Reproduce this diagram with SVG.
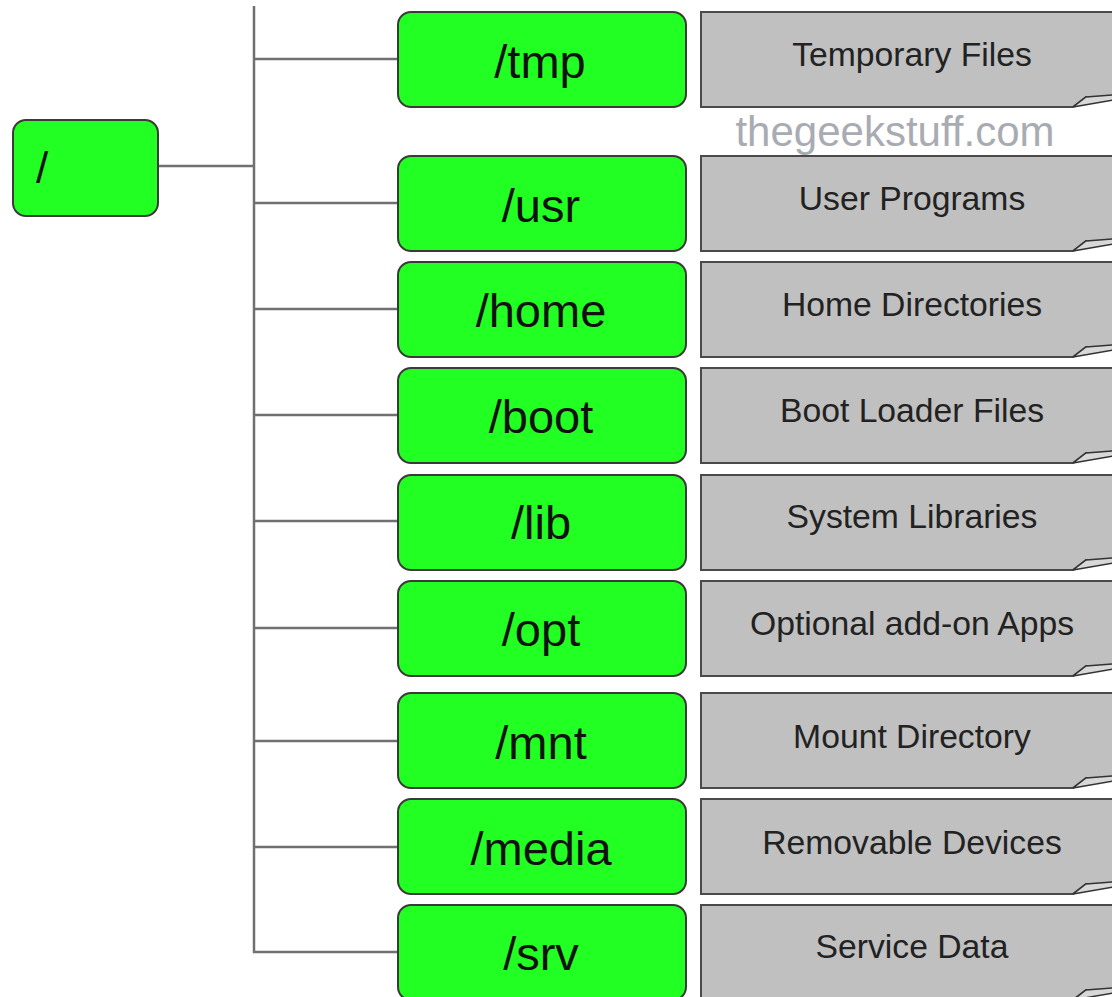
<svg xmlns="http://www.w3.org/2000/svg" width="1112" height="997" viewBox="0 0 1112 997">
<style>
.dir{fill:#22ff22;stroke:#3a3a3a;stroke-width:2}
.dt{font-family:"Liberation Sans",Arial,sans-serif;font-size:47px;fill:#111;text-anchor:middle}
.note{fill:#c0c0c0;stroke:#4a4a4a;stroke-width:2}
.fold{fill:#d8d8d8;stroke:#333;stroke-width:1.5}
.nt{font-family:"Liberation Sans",Arial,sans-serif;font-size:33.7px;fill:#222;text-anchor:middle}
.conn{stroke:#707070;stroke-width:2.5;fill:none}
</style>
<defs>
<g id="notebox">
<path class="note" d="M1114,0 L0,0 L0,95 L372,95 L385,85 L1114,84"/>
<path class="fold" d="M372,95 L385,85 L412,83 L412,88 Z"/>
</g>
</defs>
<g id="connectors">
<path class="conn" d="M254,6 L254,952 L398,952"/>
<path class="conn" d="M158,166 L254,166"/>
<path class="conn" d="M254,59 L398,59"/>
<path class="conn" d="M254,203 L398,203"/>
<path class="conn" d="M254,309 L398,309"/>
<path class="conn" d="M254,415 L398,415"/>
<path class="conn" d="M254,521 L398,521"/>
<path class="conn" d="M254,628 L398,628"/>
<path class="conn" d="M254,741 L398,741"/>
<path class="conn" d="M254,847 L398,847"/>
</g>
<g id="root">
<rect class="dir" x="13" y="120" width="145" height="96" rx="13"/>
<text x="36" y="183" style="font-family:'Liberation Sans',Arial,sans-serif;font-size:44px;fill:#111">/</text>
</g>
<g id="tmp">
<rect class="dir" x="398" y="12" width="288" height="95" rx="13"/>
<text class="dt" x="540" y="78">/tmp</text>
<use href="#notebox" x="701" y="12"/>
<text class="nt" x="912" y="66">Temporary Files</text>
</g>
<text id="watermark" x="895" y="146" style="font-family:'Liberation Sans',Arial,sans-serif;font-size:42px;fill:#a8acb2;text-anchor:middle">thegeekstuff.com</text>
<g id="usr">
<rect class="dir" x="398" y="156" width="288" height="95" rx="13"/>
<text class="dt" x="541" y="222">/usr</text>
<use href="#notebox" x="701" y="156"/>
<text class="nt" x="912" y="210">User Programs</text>
</g>
<g id="home">
<rect class="dir" x="398" y="262" width="288" height="95" rx="13"/>
<text class="dt" x="541" y="327">/home</text>
<use href="#notebox" x="701" y="262"/>
<text class="nt" x="912" y="316">Home Directories</text>
</g>
<g id="boot">
<rect class="dir" x="398" y="368" width="288" height="95" rx="13"/>
<text class="dt" x="541" y="433">/boot</text>
<use href="#notebox" x="701" y="368"/>
<text class="nt" x="912" y="422">Boot Loader Files</text>
</g>
<g id="lib">
<rect class="dir" x="398" y="475" width="288" height="95" rx="13"/>
<text class="dt" x="541" y="539">/lib</text>
<use href="#notebox" x="701" y="475"/>
<text class="nt" x="912" y="528">System Libraries</text>
</g>
<g id="opt">
<rect class="dir" x="398" y="581" width="288" height="95" rx="13"/>
<text class="dt" x="541" y="646">/opt</text>
<use href="#notebox" x="701" y="581"/>
<text class="nt" x="912" y="635">Optional add-on Apps</text>
</g>
<g id="mnt">
<rect class="dir" x="398" y="693" width="288" height="95" rx="13"/>
<text class="dt" x="541" y="759">/mnt</text>
<use href="#notebox" x="701" y="693"/>
<text class="nt" x="912" y="748">Mount Directory</text>
</g>
<g id="media">
<rect class="dir" x="398" y="799" width="288" height="95" rx="13"/>
<text class="dt" x="541" y="865">/media</text>
<use href="#notebox" x="701" y="799"/>
<text class="nt" x="912" y="854">Removable Devices</text>
</g>
<g id="srv">
<rect class="dir" x="398" y="905" width="288" height="95" rx="13"/>
<text class="dt" x="541" y="970">/srv</text>
<use href="#notebox" x="701" y="905"/>
<text class="nt" x="912" y="958">Service Data</text>
</g>
</svg>
